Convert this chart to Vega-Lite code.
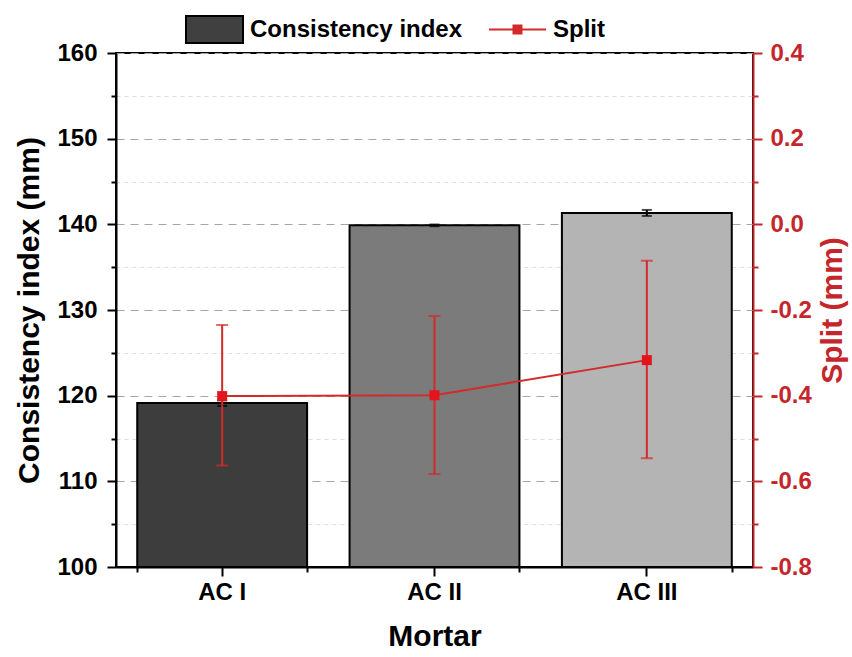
{
  "$schema": "https://vega.github.io/schema/vega-lite/v6.json",
  "width": 637,
  "height": 514,
  "autosize": {"type": "none"},
  "padding": {"left": 116, "top": 53, "right": 99, "bottom": 90},
  "background": "white",
  "config": {
    "font": "Liberation Sans",
    "view": {"stroke": "black", "strokeWidth": 2},
    "axis": {
      "domainWidth": 2,
      "tickWidth": 2,
      "labelFont": "Liberation Sans",
      "labelFontSize": 24,
      "labelFontWeight": "bold",
      "titleFont": "Liberation Sans",
      "titleFontSize": 30,
      "titleFontWeight": "bold"
    },
    "legend": {
      "labelFont": "Liberation Sans",
      "labelFontSize": 24,
      "labelFontWeight": "bold",
      "labelColor": "black",
      "labelLimit": 400,
      "padding": 0,
      "labelOffset": 6
    }
  },
  "data": {
    "values": [
      {"Mortar": "AC I", "ci": 119.13, "ci_lo": 118.8, "ci_hi": 119.45, "split": -0.401, "split_lo": -0.563, "split_hi": -0.235},
      {"Mortar": "AC II", "ci": 139.88, "ci_lo": 139.78, "ci_hi": 139.98, "split": -0.399, "split_lo": -0.583, "split_hi": -0.214},
      {"Mortar": "AC III", "ci": 141.33, "ci_lo": 140.98, "ci_hi": 141.68, "split": -0.317, "split_lo": -0.546, "split_hi": -0.085}
    ]
  },
  "layer": [
    {
      "layer": [
        {
          "mark": {"type": "bar", "strokeWidth": 2},
          "encoding": {
            "x": {
              "field": "Mortar",
              "type": "nominal",
              "sort": null,
              "title": "Mortar",
              "scale": {"paddingInner": 0.2, "paddingOuter": 0.1},
              "axis": {
                "orient": "bottom",
                "labelAngle": 0,
                "tickSize": 9,
                "labelPadding": 4,
                "titlePadding": 17,
                "domainColor": "black",
                "tickColor": "black",
                "labelColor": "black",
                "titleColor": "black"
              }
            },
            "y": {
              "field": "ci",
              "type": "quantitative",
              "title": "Consistency index (mm)",
              "scale": {"domain": [100, 160], "nice": false, "zero": false},
              "axis": {
                "values": [100, 105, 110, 115, 120, 125, 130, 135, 140, 145, 150, 155, 160],
                "labelExpr": "datum.value % 10 === 0 ? datum.label : ''",
                "tickSize": {"condition": {"test": "datum.value % 10 === 0", "value": 9}, "value": 5},
                "labelPadding": 10,
                "titlePadding": 12,
                "grid": true,
                "gridWidth": 1,
                "gridDash": {"condition": {"test": "datum.value % 10 === 0", "value": [8, 6]}, "value": [4, 4]},
                "gridColor": {"condition": {"test": "datum.value % 10 === 0", "value": "#a6a6a6"}, "value": "#dcdcdc"},
                "domainColor": "black",
                "tickColor": "black",
                "labelColor": "black",
                "titleColor": "black"
              }
            },
            "y2": {"datum": 100},
            "fill": {
              "field": "Mortar",
              "type": "nominal",
              "sort": null,
              "scale": {"range": ["#3d3d3d", "#7b7b7b", "#b4b4b4"]},
              "legend": null
            },
            "stroke": {
              "datum": "Consistency index",
              "scale": {"range": ["black"]},
              "legend": {
                "title": null,
                "orient": "none",
                "legendX": 69,
                "legendY": -53,
                "symbolType": "M-1,-0.474H1V0.474H-1Z",
                "symbolSize": 3249,
                "symbolStrokeWidth": 2,
                "symbolFillColor": "#404040",
                "encode": {
                  "symbols": {
                    "update": {
                      "fill": {"value": "#404040"},
                      "fillOpacity": {"value": 1},
                      "stroke": {"value": "black"},
                      "strokeWidth": {"value": 2},
                      "opacity": {"value": 1}
                    }
                  }
                }
              }
            }
          }
        },
        {
          "mark": {
            "type": "errorbar",
            "color": "black",
            "rule": {"strokeWidth": 2},
            "ticks": {"size": 10, "thickness": 2}
          },
          "encoding": {
            "x": {"field": "Mortar", "type": "nominal", "sort": null, "title": "Mortar"},
            "y": {"field": "ci_lo", "type": "quantitative", "title": "Consistency index (mm)"},
            "y2": {"field": "ci_hi"}
          }
        }
      ]
    },
    {
      "layer": [
        {
          "mark": {"type": "line", "strokeWidth": 2},
          "encoding": {
            "x": {
              "field": "Mortar",
              "type": "nominal",
              "sort": null,
              "title": null,
              "axis": {
                "orient": "bottom",
                "tickBand": "extent",
                "labels": false,
                "domain": false,
                "tickSize": 5,
                "tickColor": "black"
              }
            },
            "y": {
              "field": "split",
              "type": "quantitative",
              "title": "Split (mm)",
              "scale": {"domain": [-0.8, 0.4], "nice": false, "zero": false},
              "axis": {
                "orient": "right",
                "titleAngle": 270,
                "titleBaseline": "top",
                "values": [-0.8, -0.7, -0.6, -0.5, -0.4, -0.3, -0.2, -0.1, 0, 0.1, 0.2, 0.3, 0.4],
                "labelExpr": "abs(round(datum.value * 10)) % 2 === 0 ? (datum.value < -0.001 ? '-' : '') + format(abs(datum.value), '.1f') : ''",
                "tickSize": {"condition": {"test": "abs(round(datum.value * 10)) % 2 === 0", "value": 9}, "value": 5},
                "labelPadding": 8,
                "titlePadding": 6,
                "grid": false,
                "domainColor": "#c4262c",
                "tickColor": "#c4262c",
                "labelColor": "#c4262c",
                "titleColor": "#c4262c"
              }
            },
            "color": {
              "datum": "Split",
              "scale": {"range": ["#d42a2a"]},
              "legend": {
                "title": null,
                "orient": "none",
                "legendX": 372,
                "legendY": -53,
                "symbolType": "M-1,0H1M-0.14,-0.14H0.14V0.14H-0.14Z",
                "symbolSize": 3249,
                "symbolStrokeWidth": 2,
                "encode": {
                  "symbols": {
                    "update": {
                      "fill": {"value": "#d42a2a"},
                      "stroke": {"value": "#c4262c"},
                      "strokeWidth": {"value": 2},
                      "opacity": {"value": 1}
                    }
                  }
                }
              }
            }
          }
        },
        {
          "mark": {
            "type": "errorbar",
            "color": "#d42a2a",
            "rule": {"strokeWidth": 2},
            "ticks": {"size": 12, "thickness": 2}
          },
          "encoding": {
            "x": {"field": "Mortar", "type": "nominal", "sort": null, "title": null},
            "y": {"field": "split_lo", "type": "quantitative", "title": "Split (mm)"},
            "y2": {"field": "split_hi"}
          }
        },
        {
          "mark": {"type": "point", "shape": "square", "filled": true, "size": 100, "color": "#e3141c", "opacity": 1},
          "encoding": {
            "x": {"field": "Mortar", "type": "nominal", "sort": null, "title": null},
            "y": {"field": "split", "type": "quantitative", "title": "Split (mm)"}
          }
        }
      ]
    }
  ],
  "resolve": {"scale": {"y": "independent"}, "axis": {"x": "independent"}}
}
